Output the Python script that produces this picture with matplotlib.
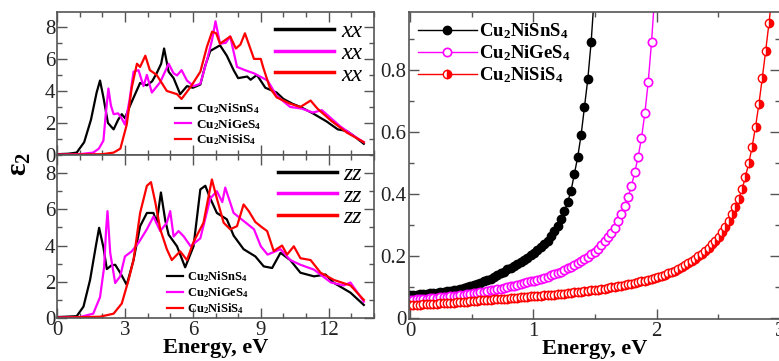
import matplotlib
matplotlib.use('Agg')
import matplotlib.pyplot as plt
import numpy as np
from matplotlib.lines import Line2D
from matplotlib.ticker import MultipleLocator, FuncFormatter

plt.rcParams['font.family'] = ['Liberation Serif', 'DejaVu Serif']
plt.rcParams['mathtext.fontset'] = 'custom'
plt.rcParams['mathtext.rm'] = 'Liberation Serif'
plt.rcParams['mathtext.bf'] = 'Liberation Serif:bold'
plt.rcParams['mathtext.it'] = 'Liberation Serif:italic'
plt.rcParams['mathtext.default'] = 'bf'

compounds = ['Cu$_2$NiSnS$_4$', 'Cu$_2$NiGeS$_4$', 'Cu$_2$NiSiS$_4$']
colors = ['black', '#ff00ff', '#ff0000']

# eps2, xx polarisation
sn_xx_e = [0, 0.5, 0.87, 1.2, 1.5, 1.75, 1.9, 2.05, 2.25, 2.5, 2.7, 2.86, 3.0, 3.2, 3.45, 3.67, 3.97, 4.2,
           4.4, 4.6, 4.73, 4.93, 5.15, 5.44, 5.74, 6.0, 6.33, 6.55, 6.77, 7.2, 7.5, 7.8, 8.0, 8.4, 8.55,
           8.83, 9.2, 9.7, 10.0, 10.4, 10.75, 11.3, 11.9, 12.4, 12.8, 13.1, 13.55]
sn_xx = [0.05, 0.08, 0.15, 0.8, 2.2, 3.9, 4.65, 3.6, 2.0, 1.6, 2.2, 2.55, 2.3, 3.0, 3.8, 4.5, 4.35, 4.6,
         5.1, 5.7, 6.65, 5.2, 4.8, 3.8, 4.3, 4.2, 4.4, 5.6, 6.5, 6.85, 6.2, 5.3, 4.8, 4.9, 4.7,
         5.0, 4.2, 3.9, 3.5, 3.2, 3.0, 2.6, 2.1, 1.6, 1.5, 1.2, 0.7]
ge_xx_e = [0, 1.0, 1.6, 1.85, 2.05, 2.15, 2.27, 2.38, 2.5, 2.7, 2.85, 3.0, 3.2, 3.38, 3.6, 3.82, 3.97,
           4.19, 4.56, 4.93, 5.15, 5.3, 5.5, 5.74, 6.03, 6.33, 6.62, 6.85, 7.0, 7.2, 7.45, 7.65, 7.95,
           8.3, 8.7, 9.3, 9.7, 10.3, 10.8, 11.3, 11.7, 12.1, 12.5, 13.1, 13.55]
ge_xx = [0.02, 0.05, 0.15, 0.4, 0.9, 2.5, 4.15, 3.1, 2.55, 2.6, 2.3, 1.9, 3.4, 5.2, 5.3, 4.3, 5.0,
         3.9, 4.55, 5.7, 5.1, 4.97, 5.3, 4.65, 4.3, 4.45, 5.9, 7.2, 8.35, 6.95, 7.0, 7.4, 5.5,
         5.3, 5.1, 4.65, 3.7, 3.0, 2.9, 2.65, 2.8, 2.3, 1.8, 1.2, 0.8]
si_xx_e = [0, 2.0, 2.5, 2.8, 3.08, 3.3, 3.53, 3.67, 3.9, 4.1, 4.4, 4.85, 5.3, 5.5, 5.9, 6.33, 6.62, 6.85,
           7.03, 7.2, 7.45, 7.65, 7.9, 8.1, 8.3, 8.7, 9.0, 9.1, 9.4, 9.7, 10.3, 10.75, 11.2, 11.5,
           12.1, 12.8, 13.55]
si_xx = [0.02, 0.05, 0.15, 0.4, 1.9, 4.2, 5.7, 5.5, 6.2, 5.3, 5.0, 4.0, 3.8, 3.5, 4.25, 5.2, 6.75, 7.7,
         7.6, 6.95, 7.2, 7.4, 6.65, 6.9, 7.6, 6.0, 6.0, 5.5, 4.2, 3.6, 3.2, 3.0, 3.4, 2.9,
         2.15, 1.4, 0.8]

# eps2, zz polarisation
sn_zz_e = [0, 0.87, 1.17, 1.46, 1.72, 1.86, 2.05, 2.2, 2.4, 2.57, 2.79, 3.08, 3.38, 3.67, 3.97, 4.26,
           4.4, 4.59, 4.78, 4.93, 5.3, 5.66, 6.03, 6.33, 6.55, 6.77, 7.06, 7.5, 7.8, 8.24, 8.76, 9.13,
           9.5, 9.87, 10.3, 10.75, 11.35, 11.86, 12.2, 12.96, 13.55]
sn_zz = [0.05, 0.1, 0.63, 2.1, 4.0, 4.98, 3.9, 2.7, 2.9, 2.94, 2.5, 1.83, 3.2, 5.07, 5.8, 5.8,
         5.26, 6.93, 5.4, 4.6, 3.96, 2.8, 3.96, 7.1, 7.3, 6.6, 5.8, 5.45, 4.55, 3.8, 3.4, 2.85,
         2.76, 3.6, 3.2, 2.5, 2.3, 2.4, 1.96, 1.4, 0.72]
ge_zz_e = [0, 1.0, 1.6, 1.9, 2.08, 2.17, 2.23, 2.35, 2.57, 2.79, 3.0, 3.3, 3.6, 3.97, 4.26, 4.56, 4.85,
           5.0, 5.15, 5.37, 5.6, 5.9, 6.33, 6.77, 7.06, 7.3, 7.43, 7.8, 8.1, 8.7, 9.0, 9.3, 9.87,
           10.3, 10.75, 11.35, 12.1, 12.67, 12.96, 13.55]
ge_zz = [0.02, 0.05, 0.24, 1.15, 2.8, 4.9, 5.9, 3.6, 1.93, 2.3, 3.4, 3.68, 4.15, 4.9, 5.6, 4.8, 5.26,
         5.9, 4.5, 4.8, 4.5, 3.96, 4.4, 6.6, 7.0, 6.4, 7.2, 5.8, 5.5, 4.9, 3.96, 3.5, 3.8,
         3.2, 2.94, 2.67, 1.96, 1.8, 1.96, 0.9]
si_zz_e = [0, 1.9, 2.5, 2.86, 3.16, 3.38, 3.67, 3.97, 4.15, 4.34, 4.56, 4.85, 5.07, 5.44, 5.74, 6.03,
           6.47, 6.84, 7.06, 7.36, 7.65, 7.95, 8.24, 8.47, 8.76, 9.06, 9.28, 9.57, 9.94, 10.16,
           10.46, 10.75, 11.2, 11.64, 12.23, 12.96, 13.55]
si_zz = [0.02, 0.07, 0.24, 0.8, 2.1, 3.2, 5.8, 7.3, 7.5, 6.4, 4.9, 3.8, 3.2, 3.68, 3.2, 4.2,
         5.26, 7.65, 6.6, 5.26, 4.9, 5.07, 6.27, 5.9, 5.3, 5.0, 4.8, 3.7, 4.0, 3.5,
         3.96, 3.3, 3.2, 2.5, 2.1, 1.8, 1.0]

# right panel, values on an energy grid with 0.0272 eV step
e_step = 0.0272
sn_r = [0.074, 0.075, 0.076, 0.077, 0.078, 0.079, 0.080, 0.081, 0.082, 0.083,
        0.085, 0.086, 0.088, 0.090, 0.092, 0.094, 0.097, 0.100, 0.103, 0.106,
        0.110, 0.114, 0.118, 0.122, 0.127, 0.132, 0.138, 0.144, 0.150, 0.157,
        0.163, 0.169, 0.175, 0.181, 0.188, 0.195, 0.202, 0.210, 0.219, 0.228,
        0.238, 0.250, 0.265, 0.280, 0.298, 0.320, 0.345, 0.375, 0.410, 0.465,
        0.520, 0.590, 0.680, 0.770, 0.890, 1.050]
ge_r = [0.058, 0.059, 0.060, 0.061, 0.062, 0.063, 0.064, 0.065, 0.066, 0.067,
        0.068, 0.069, 0.070, 0.071, 0.072, 0.074, 0.075, 0.077, 0.078, 0.080,
        0.082, 0.083, 0.085, 0.087, 0.089, 0.091, 0.093, 0.095, 0.097, 0.099,
        0.102, 0.104, 0.107, 0.109, 0.112, 0.115, 0.118, 0.121, 0.124, 0.127,
        0.130, 0.134, 0.138, 0.142, 0.146, 0.150, 0.155, 0.160, 0.165, 0.171,
        0.177, 0.183, 0.190, 0.197, 0.205, 0.214, 0.224, 0.235, 0.247, 0.260,
        0.275, 0.292, 0.312, 0.335, 0.360, 0.390, 0.425, 0.470, 0.520, 0.580,
        0.660, 0.760, 0.890, 1.050]
si_r = [0.042, 0.042, 0.043, 0.043, 0.044, 0.044, 0.045, 0.046, 0.046, 0.047,
        0.048, 0.049, 0.049, 0.050, 0.051, 0.052, 0.052, 0.053, 0.054, 0.055,
        0.056, 0.057, 0.057, 0.058, 0.059, 0.060, 0.061, 0.062, 0.062, 0.063,
        0.064, 0.065, 0.066, 0.067, 0.068, 0.069, 0.070, 0.070, 0.071, 0.072,
        0.073, 0.074, 0.075, 0.076, 0.077, 0.078, 0.079, 0.080, 0.082, 0.083,
        0.084, 0.085, 0.087, 0.088, 0.089, 0.091, 0.092, 0.094, 0.095, 0.097,
        0.099, 0.101, 0.103, 0.105, 0.107, 0.109, 0.111, 0.113, 0.116, 0.118,
        0.121, 0.124, 0.127, 0.130, 0.133, 0.136, 0.140, 0.144, 0.148, 0.153,
        0.158, 0.164, 0.170, 0.177, 0.184, 0.191, 0.199, 0.208, 0.217, 0.227,
        0.238, 0.250, 0.263, 0.278, 0.295, 0.313, 0.334, 0.358, 0.385, 0.415,
        0.456, 0.500, 0.553, 0.617, 0.690, 0.773, 0.860, 0.950, 1.050]

spine_col = '#555555'
tick_col = '#222222'

fig = plt.figure(figsize=(7.79, 3.61), dpi=100)
ax1 = fig.add_axes([57 / 779, 1 - 155 / 361, 317 / 779, 143 / 361])
ax2 = fig.add_axes([57 / 779, 1 - 318 / 361, 317 / 779, 163 / 361])
ax3 = fig.add_axes([409 / 779, 1 - 319 / 361, 371 / 779, 307 / 361])


def style(ax):
    for s in ax.spines.values():
        s.set_color(spine_col)
        s.set_linewidth(1.2)
    ax.tick_params(which='both', direction='in', top=True, right=True,
                   colors=spine_col, labelcolor=tick_col, labelsize=15, width=1.0)
    ax.tick_params(which='major', length=7)
    ax.tick_params(which='minor', length=3.5)


# top-left panel: xx
for e, v, c, lab in zip([sn_xx_e, ge_xx_e, si_xx_e], [sn_xx, ge_xx, si_xx], colors, compounds):
    ax1.plot(e, v, color=c, lw=1.6, label=lab)
# bottom-left panel: zz
for e, v, c, lab in zip([sn_zz_e, ge_zz_e, si_zz_e], [sn_zz, ge_zz, si_zz], colors, compounds):
    ax2.plot(e, v, color=c, lw=1.6, label=lab)

for ax, ymax, tag in [(ax1, 8.93, 'xx'), (ax2, 9.0, 'zz')]:
    style(ax)
    ax.set_xlim(0, 14)
    ax.set_ylim(0, ymax)
    ax.xaxis.set_major_locator(MultipleLocator(3))
    ax.xaxis.set_minor_locator(MultipleLocator(1))
    ax.yaxis.set_major_locator(MultipleLocator(2))
    ax.yaxis.set_minor_locator(MultipleLocator(1))
    ax.tick_params(axis='y', pad=1)
    proxies = [Line2D([], [], color=c, lw=2.5) for c in colors]
    leg1 = ax.legend(proxies, [tag] * 3, loc='upper right', bbox_to_anchor=(1.0, 1.02),
                     frameon=False, handlelength=2.5, labelspacing=0.0, handletextpad=0.3,
                     borderaxespad=0.1, prop={'style': 'italic', 'size': 17})
    ax.add_artist(leg1)

ax1.tick_params(axis='x', labelbottom=False)
ax1.legend(loc='upper left', bbox_to_anchor=(0.355, 0.41), frameon=False, handlelength=1.2,
           handletextpad=0.4, labelspacing=0.05, borderaxespad=0,
           prop={'weight': 'bold', 'size': 9.5})
ax2.legend(loc='upper left', bbox_to_anchor=(0.33, 0.33), frameon=False, handlelength=1.3,
           handletextpad=0.3, labelspacing=0.1, borderaxespad=0,
           prop={'weight': 'bold', 'size': 9})
ax2.set_xlabel('Energy, eV', fontsize=16, fontweight='bold', labelpad=-1)
ax2.tick_params(axis='x', pad=2)
fig.text(0.025, 0.545, 'ε$_2$', rotation=90, fontsize=21, fontweight='bold',
         ha='center', va='center')

# right panel
style(ax3)
x_sn = np.arange(len(sn_r)) * e_step
x_ge = np.arange(len(ge_r)) * e_step
x_si = np.arange(len(si_r)) * e_step
ax3.plot(x_sn, sn_r, color='black', lw=1.0, marker='o', ms=6, mfc='black', mec='black',
         label=compounds[0])
ax3.plot(x_ge, ge_r, color='#ff00ff', lw=1.0, marker='o', ms=6, mfc='white', mec='#ff00ff',
         mew=1.2, label=compounds[1])
ax3.plot(x_si, si_r, color='#ff0000', lw=1.0, marker='o', ms=6, mfc='#ff0000', mec='#ff0000',
         fillstyle='right', markerfacecoloralt='white', label=compounds[2])
ax3.set_xlim(-0.008, 3.0)
ax3.set_ylim(-0.003, 0.987)
ax3.xaxis.set_major_locator(MultipleLocator(1))
ax3.xaxis.set_minor_locator(MultipleLocator(0.5))
ax3.yaxis.set_major_locator(MultipleLocator(0.2))
ax3.yaxis.set_minor_locator(MultipleLocator(0.1))
ax3.yaxis.set_major_formatter(FuncFormatter(lambda v, p: '0' if abs(v) < 1e-9 else f'{v:.1f}'))
ax3.tick_params(axis='y', pad=2)
ax3.tick_params(axis='x', pad=2)
ax3.legend(loc='upper left', bbox_to_anchor=(0.0, 1.0), frameon=False, handlelength=3.1,
           handletextpad=0.15, labelspacing=0.12, borderaxespad=0.1,
           prop={'weight': 'bold', 'size': 13.5})
ax3.set_xlabel('Energy, eV', fontsize=16, fontweight='bold', labelpad=-1)

fig.savefig('out.png', dpi=100)
